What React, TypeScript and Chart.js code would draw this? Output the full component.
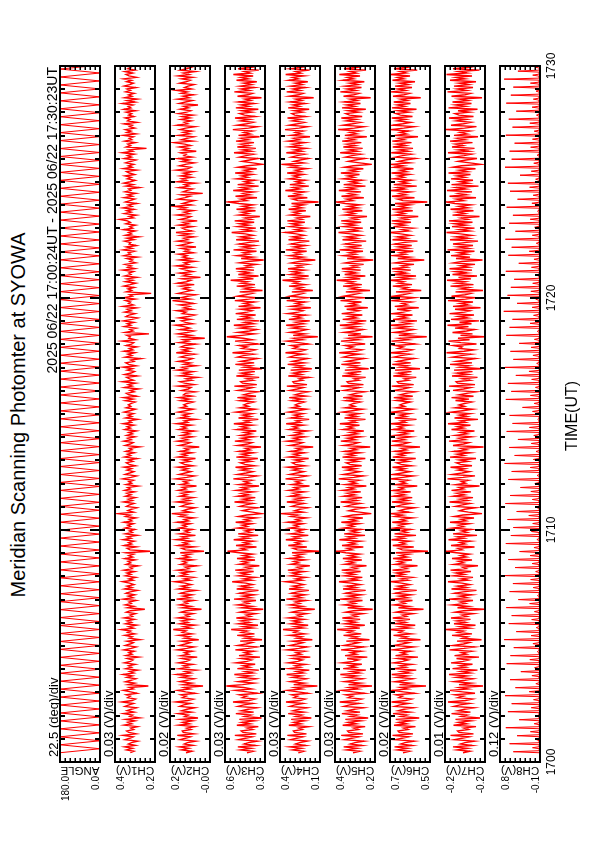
import React, { useEffect, useRef } from 'react';
import { Chart, registerables } from 'chart.js';

Chart.register(...registerables);

// ---------------- text ----------------
const TITLE = 'Meridian Scanning Photomter at SYOWA';
const SUBTITLE = '2025 06/22 17:00:24UT - 2025 06/22 17:30:23UT';
const TIME_TITLE = 'TIME(UT)';

// ---------------- panels ----------------
const panelNames = ['ANGLE', 'CH1(V)', 'CH2(V)', 'CH3(V)', 'CH4(V)', 'CH5(V)', 'CH6(V)', 'CH7(V)', 'CH8(V)'];
const divLabels = ['22.5 (deg)/div', '0.03 (V)/div', '0.02 (V)/div', '0.03 (V)/div', '0.03 (V)/div', '0.03 (V)/div', '0.02 (V)/div', '0.01 (V)/div', '0.12 (V)/div'];
const maxLabels = ['180.0', '0.4', '0.2', '0.6', '0.4', '0.4', '0.7', '-0.2', '0.8'];
const minLabels = ['0.0', '0.2', '-0.0', '0.3', '0.1', '0.2', '0.5', '-0.2', '-0.1'];
const panelMins = [0, 0.17, -0.01, 0.32, 0.14, 0.17, 0.54, -0.24, -0.12];
const panelDivs = [22.5, 0.03, 0.02, 0.03, 0.03, 0.03, 0.02, 0.01, 0.12];
const DIVISIONS = 8;

// ---------------- time axis (minutes after 17:00 UT) ----------------
const timeTickLabels = ['1700', '1710', '1720', '1730'];
const timeTickMinutes = [0, 10, 20, 30];
const TIME_MIN = 0;
const TIME_MAX = 30;
const MINOR_STEP = 1;
const MAJOR_STEP = 10;
const dataStartMin = 0.4; // 17:00:24
const dataEndMin = 30.383; // 17:30:23

// ---------------- data ----------------
const angleDeg = [
  180,0,180,0,180,0,180,0,180,0,180,0,180,0,180,0,180,0,180,0,180,0,
  180,0,180,0,180,0,180,0,180,0,180,0,180,0,180,0,180,0,180,0,180,0,
  180,0,180,0,180,0,180,0,180,0,180,0,180,0,180,0,180,0,180,0,180,0,
  180,0,180,0,180,0,180,0,180,0,180,0,180,0,180,0,180,0,180,0,180,0,
  180,0,180,0,180,0,180,0,180,0,180,0,180,0,180,0,180,0,180,0,180,0,
  180,0,180,0,180,0,180,0,180,0,180,0,180,0,180,0,180,0,180,0,180,0,
  180,0,180,0,180,0,180,0,180,0,180,0,180,0,180,0,180,0,180,0,180,0,
  180,0,180,0,180,0,180,0,180,0,180,0,180,0,180,0,180,0,180,0,180,0,
];

const ch1mV = [
  318,296,341,305,352,288,330,311,274,349,322,301,362,284,327,340,298,315,276,355,
  309,333,290,346,262,321,304,358,295,337,312,281,350,326,299,368,307,287,334,318,
  343,278,316,359,301,325,210,331,292,347,314,285,339,306,361,297,322,273,345,310,
  329,289,353,317,302,336,268,344,308,327,295,357,313,283,348,320,300,338,261,324,
  306,351,291,334,316,372,299,328,279,346,311,337,294,355,305,320,287,342,318,231,
  335,297,349,312,326,284,360,303,331,292,344,319,276,352,308,338,296,323,365,301,
  327,286,347,314,339,293,356,307,321,271,343,316,332,289,351,304,328,298,345,199,
  320,337,282,354,310,329,295,361,313,336,277,348,306,324,291,350,317,334,300,357,
  309,326,284,346,319,392,298,333,312,279,341,323,296,358,306,330,288,347,314,339,
  293,352,318,335,272,344,310,327,300,363,315,281,349,322,297,338,311,356,287,325,
  342,303,331,278,353,316,336,294,345,308,324,262,348,319,301,357,313,334,290,340,
  305,328,283,351,317,337,296,360,311,326,274,346,309,332,299,355,321,288,343,315,
  330,312,289,347,301,358,280,326,342,295,319,268,353,307,331,286,364,299,322,340,
  277,351,314,293,336,305,360,283,328,345,297,316,254,349,309,333,291,356,303,324,
  279,343,311,298,366,288,327,318,339,206,348,302,321,284,354,315,337,296,359,308,
  274,344,326,290,352,313,336,281,362,300,329,317,347,289,355,306,323,193,341,310,
  332,295,357,319,285,346,303,338,278,351,314,327,299,363,291,334,312,349,286,321,
  305,339,276,356,317,330,294,361,308,343,283,325,316,352,297,337,267,348,311,329,
  290,358,304,322,287,345,318,335,381,300,326,282,353,313,340,296,362,309,331,279,
  347,320,292,355,306,334,285,349,315,328,264,344,301,357,319,289,336,312,350,293,
  324,341,280,359,307,330,298,346,318,286,354,311,335,294,365,303,327,221,342,316,
  333,288,351,309,325,300,360,284,339,314,347,292,323,306,356,279,334,319,349,297,
  328,310,343,287,357,315,331,302,364,290,337,276,352,308,329,295,346,317,338,285,
  355,322,299,340,311,358,282,326,344,304,350,291,333,316,348,273,321,302,359,308,
  337,
];

const ch2mV = [
  86,62,104,75,112,58,93,80,47,109,88,69,121,55,97,101,66,83,52,115,
  73,99,60,108,38,91,77,117,64,103,82,51,111,95,68,126,79,57,100,85,
  106,49,87,119,70,94,18,98,63,110,81,54,105,74,123,67,90,45,113,78,
  96,59,116,84,71,102,41,107,76,92,61,120,83,53,111,89,69,104,35,92,
  72,114,62,100,86,137,68,95,50,110,79,103,64,118,74,88,57,106,85,24,
  101,66,112,80,93,55,124,71,98,62,108,87,46,115,77,104,65,90,129,70,
  94,56,111,82,105,63,119,75,89,43,107,84,99,58,114,73,96,67,109,14,
  88,103,52,117,78,97,64,125,81,102,48,112,74,91,60,113,85,100,69,121,
  76,93,54,110,87,143,67,99,80,50,106,90,65,122,73,97,57,111,82,104,
  63,116,86,101,44,108,78,95,70,127,83,52,113,89,66,102,79,119,57,92,
  107,71,98,48,118,84,103,62,109,76,91,33,112,86,69,120,80,101,59,105,
  72,96,53,114,85,102,64,123,79,93,46,110,77,99,68,117,88,57,107,83,
  95,81,58,107,72,115,61,96,88,49,103,77,66,118,54,92,110,63,85,40,
  112,70,98,57,121,83,101,45,94,68,116,79,60,108,87,52,125,74,99,64,
  106,90,47,113,76,97,11,102,65,119,82,55,109,71,93,128,59,88,104,67,
  114,78,51,100,86,123,62,95,73,111,56,89,140,69,105,80,48,117,91,63,
  98,75,108,53,120,84,66,102,28,96,72,112,58,87,106,61,124,77,93,50,
  110,68,99,82,116,57,91,74,104,46,113,85,65,119,79,95,54,107,70,126,
  62,88,101,59,115,76,97,41,109,83,67,122,73,94,56,111,86,132,64,100,
  78,52,117,90,69,105,19,98,81,60,114,75,92,48,120,84,103,63,108,71,
  96,57,125,80,66,112,89,53,102,74,118,61,94,85,107,45,99,77,113,68,
  91,136,59,104,82,55,116,72,97,63,110,87,50,121,79,93,65,106,70,101,
  58,115,83,67,109,76,95,38,112,88,61,119,74,98,56,105,81,124,64,92,
  78,54,111,86,69,103,60,117,73,96,49,108,84,66,114,77,100,58,121,90,
  71,
];

const ch3mV = [
  428,391,467,404,483,377,445,419,366,478,437,398,501,372,452,463,395,426,360,489,
  410,458,384,474,341,441,406,495,388,462,421,369,481,447,393,512,415,381,455,430,
  472,364,425,497,399,448,552,455,386,479,417,373,466,408,504,392,438,357,486,412,
  451,379,493,429,401,461,350,476,409,443,387,498,420,370,482,433,397,469,338,440,
  403,487,383,459,427,523,392,450,362,477,414,463,389,492,406,432,375,471,424,331,
  460,396,485,418,446,374,506,405,453,385,474,427,359,490,411,464,394,435,517,400,
  449,378,480,421,468,388,499,407,437,354,475,423,456,380,488,404,451,393,473,545,
  434,462,371,494,413,447,390,508,419,459,361,481,406,439,384,487,426,457,399,496,
  410,442,373,478,430,339,396,455,416,365,470,436,392,503,405,452,378,483,418,461,
  389,491,424,458,356,476,412,444,400,510,422,369,484,433,393,463,414,497,381,440,
  468,402,454,363,492,420,460,390,477,409,437,344,482,425,398,501,417,459,386,466,
  404,445,372,488,423,462,394,507,412,441,360,479,408,453,396,494,431,379,471,419,
  447,425,388,471,402,486,374,448,416,363,481,434,395,504,369,455,466,392,429,355,
  492,407,461,381,477,338,444,403,498,385,465,418,366,484,450,390,515,412,378,458,
  427,475,361,422,500,396,451,549,458,383,482,414,370,469,405,507,389,441,354,489,
  409,454,376,496,426,398,464,347,479,406,446,384,501,417,367,485,436,394,472,335,
  443,400,490,380,462,424,526,389,453,359,480,411,466,386,495,403,435,372,474,421,
  328,463,393,488,415,449,371,509,402,456,382,477,424,356,493,408,467,391,438,520,
  397,452,375,483,418,471,385,502,404,440,351,478,420,459,377,491,401,454,390,476,
  541,431,465,368,497,410,450,387,511,416,462,358,484,403,442,381,490,423,460,396,
  499,407,445,370,481,427,336,393,458,413,362,473,433,389,506,402,455,375,486,415,
  464,386,494,421,461,353,479,409,447,397,513,419,366,487,430,390,466,411,500,378,
  443,471,399,457,360,495,417,463,387,480,406,440,341,485,422,395,504,414,462,383,
  469,401,448,369,491,420,465,391,510,409,444,357,482,405,456,393,497,428,376,474,
  416,
];

const ch4mV = [
  270,238,305,251,322,226,287,262,215,316,279,243,336,221,293,300,246,268,209,327,
  255,297,233,313,192,284,250,331,237,302,266,218,320,290,241,344,259,229,296,274,
  309,212,271,335,248,292,156,298,235,318,263,222,304,253,340,240,281,204,324,257,
  289,227,330,273,245,301,198,311,254,283,232,337,267,217,319,278,242,306,186,280,
  249,323,231,295,272,362,239,291,211,314,258,303,236,329,252,276,220,310,269,171,
  299,244,321,261,288,223,342,251,294,230,312,275,207,326,256,302,238,279,348,247,
  286,225,317,264,307,234,333,252,277,201,315,268,297,228,325,250,290,239,308,146,
  276,301,219,330,259,287,235,345,265,298,210,318,249,281,231,322,270,296,243,334,
  257,284,221,313,274,375,240,293,262,214,309,280,236,339,251,291,226,320,263,300,
  233,327,267,294,203,311,255,285,245,347,269,218,321,278,237,303,260,332,229,288,
  306,248,292,208,328,266,299,234,316,253,282,181,319,271,244,337,261,298,230,312,
  250,286,216,324,273,301,238,343,258,283,205,314,254,295,241,329,277,222,310,264,
  289,267,235,308,248,325,223,290,259,212,319,276,240,339,218,296,303,243,265,206,
  330,252,300,230,316,189,287,247,334,234,305,263,215,323,293,238,347,256,226,299,
  271,312,209,268,338,245,295,153,301,232,321,260,219,307,250,343,237,284,201,327,
  254,292,224,333,270,242,304,195,314,251,286,229,340,264,214,322,275,239,309,183,
  283,246,326,228,298,269,365,236,294,208,317,255,306,233,332,249,279,217,313,266,
  168,302,241,324,258,291,220,345,248,297,227,315,272,204,329,253,305,235,282,351,
  244,289,222,320,261,310,231,336,249,280,198,318,265,300,225,328,247,293,236,311,
  149,273,304,216,333,256,290,232,348,262,301,207,321,246,284,228,325,267,299,240,
  337,254,287,218,316,271,372,237,296,259,211,312,277,233,342,248,294,223,323,260,
  303,230,330,264,297,200,314,252,288,242,350,266,215,324,275,234,306,257,335,226,
  291,309,245,295,205,331,263,302,231,319,250,285,178,322,268,241,340,258,301,227,
  315,247,289,213,327,270,304,235,346,255,286,202,317,251,298,238,332,274,219,313,
  261,
];

const ch5mV = [
  302,262,341,277,358,248,318,290,235,352,310,268,373,242,327,335,270,297,229,364,
  283,331,255,348,211,315,279,369,260,336,294,238,356,322,265,382,287,251,330,304,
  345,232,300,371,272,324,188,329,257,353,291,244,340,280,378,263,312,225,361,285,
  323,249,367,303,269,337,216,350,282,316,254,374,295,236,355,308,267,342,203,311,
  276,359,252,330,301,397,261,326,231,349,286,339,259,366,278,306,241,346,299,184,
  334,266,357,289,321,245,380,275,328,253,347,305,226,362,284,338,258,313,386,271,
  319,246,354,292,343,256,370,280,309,221,351,296,333,249,363,277,325,262,345,402,
  307,336,240,368,287,322,257,384,293,332,230,355,273,314,252,359,298,331,266,372,
  281,317,243,350,303,192,264,327,290,234,344,311,259,376,279,324,247,357,291,335,
  255,364,296,329,222,348,283,318,268,388,297,239,358,308,261,338,286,369,250,320,
  342,272,326,228,365,294,337,260,352,281,315,199,356,300,269,375,289,334,254,346,
  276,319,237,360,302,333,263,381,285,316,227,353,280,328,264,366,306,245,349,292,
  321,299,259,344,274,361,245,321,287,232,355,307,265,376,239,330,338,267,294,226,
  367,280,334,252,351,208,318,276,372,257,339,291,235,359,325,262,385,284,248,333,
  301,348,229,297,374,269,327,185,332,254,356,288,241,343,277,381,260,315,222,364,
  282,326,246,370,300,266,340,213,353,279,319,251,377,292,233,358,305,264,345,200,
  314,273,362,249,333,298,400,258,329,228,352,283,342,256,369,275,309,238,349,296,
  181,337,263,360,286,324,242,383,272,331,250,350,302,223,365,281,341,255,316,389,
  268,322,243,357,289,346,253,373,277,312,218,354,293,336,246,366,274,328,259,348,
  405,304,339,237,371,284,325,254,387,290,335,227,358,270,317,249,362,295,334,263,
  375,278,320,240,353,300,189,261,330,287,231,347,308,256,379,276,327,244,360,288,
  338,252,367,293,332,219,351,280,321,265,391,294,236,361,305,258,341,283,372,247,
  323,345,269,329,225,368,291,340,257,355,278,318,196,359,297,266,378,286,337,251,
  349,273,322,234,363,299,336,260,384,282,319,224,356,277,331,261,369,303,242,352,
  289,
];

const ch6mV = [
  648,622,671,630,682,612,657,640,603,679,652,626,690,608,663,668,628,645,598,684,
  634,665,617,677,583,656,633,688,620,667,644,606,681,660,625,694,637,614,664,650,
  675,601,646,691,629,658,556,662,619,680,641,609,672,631,693,623,654,595,685,636,
  659,613,687,649,627,669,588,678,635,655,618,692,647,604,683,651,624,673,578,653,
  632,686,615,663,648,698,622,661,599,681,638,670,620,689,634,650,607,676,646,566,
  666,624,684,640,657,610,695,630,664,616,679,652,593,687,637,668,621,654,696,628,
  656,611,683,643,674,619,690,633,653,590,680,645,667,612,688,631,660,623,677,548,
  651,666,605,689,639,658,621,694,644,669,596,682,632,655,617,685,647,665,626,691,
  636,656,609,681,649,699,624,663,642,601,675,653,618,692,630,661,611,686,641,670,
  617,688,646,662,591,679,637,657,628,697,648,606,686,652,620,667,640,690,613,655,
  673,627,663,597,689,644,668,621,682,634,654,580,685,647,625,693,641,666,615,677,
  631,659,603,687,648,667,623,696,638,656,594,681,635,661,622,689,650,608,676,642,
  660,645,619,674,627,685,609,660,637,600,682,649,623,693,605,666,671,625,642,595,
  687,631,668,614,680,580,659,630,691,617,670,641,603,684,657,622,697,634,611,667,
  647,678,598,643,694,626,661,553,665,616,683,638,606,675,628,696,620,651,592,688,
  633,662,610,690,646,624,672,585,681,632,652,615,695,644,601,686,648,621,676,575,
  650,629,689,612,666,645,699,619,664,596,684,635,673,617,692,631,653,604,679,643,
  563,669,621,687,637,660,607,698,627,667,613,682,649,590,690,634,671,618,657,699,
  625,653,608,686,640,677,616,693,630,656,587,683,642,670,609,691,628,663,620,680,
  551,648,669,602,692,636,661,618,697,641,672,593,685,629,658,614,688,644,668,623,
  694,633,659,606,684,646,698,621,666,639,598,678,650,615,695,627,664,608,689,638,
  673,614,691,643,665,588,682,634,660,625,699,645,603,689,649,617,670,637,693,610,
  658,676,624,666,594,692,641,671,618,685,631,657,577,688,644,622,696,638,669,612,
  680,628,662,600,690,645,670,620,698,635,659,591,684,632,664,619,692,647,605,679,
  639,
];

const ch7mV = [
  -196,-210,-184,-205,-176,-214,-191,-200,-219,-179,-194,-208,-171,-217,-188,-185,-207,-198,-222,-177,
  -203,-187,-212,-181,-230,-193,-204,-173,-211,-186,-199,-218,-178,-190,-209,-166,-201,-215,-186,-197,
  -180,-220,-195,-170,-206,-189,-236,-188,-212,-178,-200,-216,-183,-204,-168,-210,-192,-225,-175,-202,
  -190,-215,-172,-196,-207,-183,-228,-179,-203,-193,-213,-169,-198,-219,-176,-197,-209,-184,-233,-195,
  -205,-174,-214,-186,-197,-162,-209,-190,-221,-178,-201,-184,-211,-172,-204,-194,-217,-180,-197,-238,
  -185,-207,-175,-201,-191,-216,-168,-204,-189,-213,-179,-196,-223,-173,-203,-185,-210,-194,-166,-206,
  -192,-216,-177,-199,-182,-212,-171,-202,-195,-226,-178,-197,-187,-214,-174,-203,-191,-209,-183,-161,
  -194,-186,-219,-172,-200,-190,-211,-167,-198,-185,-224,-176,-204,-193,-213,-175,-197,-187,-208,-170,
  -202,-192,-218,-179,-196,-234,-207,-189,-199,-221,-181,-195,-210,-169,-205,-190,-216,-177,-199,-184,
  -212,-173,-197,-188,-229,-181,-201,-193,-206,-165,-196,-220,-175,-194,-209,-186,-200,-171,-214,-191,
  -183,-206,-189,-222,-170,-198,-184,-210,-178,-203,-192,-237,-176,-197,-208,-168,-200,-188,-213,-181,
  -204,-191,-219,-173,-197,-185,-211,-166,-201,-190,-226,-179,-204,-189,-210,-172,-195,-215,-180,-199,
  -188,-199,-213,-181,-208,-173,-217,-188,-203,-222,-176,-197,-211,-168,-220,-185,-182,-210,-195,-225,
  -174,-206,-184,-215,-178,-233,-190,-207,-170,-214,-183,-202,-221,-175,-193,-212,-163,-198,-218,-189,
  -194,-177,-223,-192,-167,-209,-186,-239,-191,-215,-175,-203,-219,-180,-207,-165,-213,-189,-228,-172,
  -205,-187,-218,-169,-199,-210,-180,-231,-176,-206,-190,-216,-166,-201,-222,-173,-200,-212,-181,-236,
  -192,-208,-171,-217,-183,-200,-164,-212,-187,-224,-175,-204,-181,-214,-169,-207,-191,-220,-177,-194,
  -235,-182,-210,-172,-204,-188,-219,-165,-207,-186,-216,-176,-199,-226,-170,-206,-182,-213,-191,-163,
  -209,-189,-219,-174,-202,-179,-215,-168,-205,-192,-229,-175,-200,-184,-217,-171,-206,-188,-212,-180,
  -162,-197,-183,-222,-169,-203,-187,-214,-164,-201,-182,-227,-173,-207,-190,-216,-172,-200,-184,-211,
  -167,-205,-189,-221,-176,-193,-232,-210,-186,-202,-224,-178,-198,-213,-166,-208,-187,-219,-174,-196,
  -181,-215,-170,-200,-185,-226,-178,-204,-190,-209,-162,-199,-223,-172,-197,-212,-183,-203,-168,-217,
  -188,-180,-209,-186,-225,-167,-201,-181,-213,-175,-206,-189,-234,-173,-200,-211,-165,-203,-185,-216,
  -178,-207,-188,-222,-170,-200,-182,-214,-163,-204,-187,-229,-176,-207,-186,-213,-169,-198,-218,-177,
  -196,
];

// CH8: per scan cycle a baseline level, a peak and a small return
const ch8Floor = [
  -101,-97,-104,-99,-95,-102,-98,-100,-106,-96,-103,-99,-94,-101,-105,-98,-100,-97,-103,-99,
  -96,-102,-100,-95,-104,-98,-101,-97,-105,-99,-100,-96,-103,-98,-102,-94,-100,-104,-97,-101,
  -99,-95,-103,-100,-98,-106,-97,-101,-99,-96,-104,-100,-98,-102,-95,-101,-97,-103,-99,-100,
  -96,-104,-98,-101,-97,-103,-100,-95,-102,-99,-105,-98,-100,-96,-103,-99,-101,-97,-104,-98,
  -100,-95,-102,-99,-97,-103,-100,
];
const ch8Peak = [
  520,610,430,700,380,650,560,720,470,600,340,680,590,510,740,450,630,560,690,400,
  610,530,760,480,640,370,700,580,520,660,440,710,600,350,640,560,730,490,620,410,
  680,540,610,300,700,570,650,460,720,520,590,380,690,610,540,750,430,660,580,500,
  700,390,640,560,710,470,620,530,680,420,600,650,360,720,560,610,490,700,540,630,
  450,690,580,520,740,410,660,
];
const ch8Small = [
  60,-40,110,20,-70,90,35,140,-20,75,10,125,-55,50,95,-30,80,15,130,-60,
  45,105,-15,70,120,25,-45,85,55,150,-35,65,100,5,-50,115,40,-25,90,30,
  135,-65,60,20,110,-10,80,145,-40,50,95,15,-55,120,35,70,-20,100,55,-45,
  85,25,140,-30,65,10,115,-60,75,45,130,-15,90,30,-50,105,60,20,125,-35,
  70,40,-25,110,55,-5,95,
];

// ---------------- layout / style (pixels) ----------------
const PANEL_LEFTS = [60, 115, 170, 225, 280, 335, 390, 445, 500];
const PANEL_LINE_WIDTHS = [1, 1.4, 1.4, 1.4, 1.4, 1.4, 1.4, 1.4, 1];
const PANEL_W = 40;
const PANEL_TOP = 66;
const PANEL_H = 696;
const PAD = 6;
const MINOR_LEN = 5;
const MAJOR_LEN = 10;
const VTICK_LEN = 3;
const FONT = '"Liberation Sans", Arial, Helvetica, sans-serif';

// ---------------- build series ----------------
function timed(values: number[], scale: number) {
  const n = values.length;
  return values.map((v, i) => ({
    x: v * scale,
    y: dataStartMin + (i * (dataEndMin - dataStartMin)) / (n - 1),
  }));
}

const ch8mV = ch8Peak.flatMap((p, i) => {
  const f = ch8Floor[i];
  return [f, p, f, f, f, ch8Small[i], f, f];
});

const series = [
  timed(angleDeg, 1),
  timed(ch1mV, 0.001),
  timed(ch2mV, 0.001),
  timed(ch3mV, 0.001),
  timed(ch4mV, 0.001),
  timed(ch5mV, 0.001),
  timed(ch6mV, 0.001),
  timed(ch7mV, 0.001),
  timed(ch8mV, 0.001),
];

const framePlugin = {
  id: 'frame',
  afterDatasetsDraw(chart: any, _args: any, opts: any) {
    const { ctx, chartArea: a } = chart;
    const xs = chart.scales.x;
    const ys = chart.scales.y;
    ctx.save();
    ctx.strokeStyle = '#000';
    ctx.lineCap = 'butt';
    ctx.lineWidth = 2;
    for (let m = TIME_MIN + MINOR_STEP; m < TIME_MAX; m += MINOR_STEP) {
      const py = Math.round(ys.getPixelForValue(m));
      const len = m % MAJOR_STEP === 0 ? MAJOR_LEN : MINOR_LEN;
      ctx.beginPath();
      ctx.moveTo(a.left, py);
      ctx.lineTo(a.left + len, py);
      ctx.moveTo(a.right, py);
      ctx.lineTo(a.right - len, py);
      ctx.stroke();
    }
    ctx.lineWidth = 1.5;
    for (let k = 1; k < DIVISIONS; k++) {
      const px = Math.round(xs.getPixelForValue(opts.min + k * opts.div)) + 0.25;
      ctx.beginPath();
      ctx.moveTo(px, a.top);
      ctx.lineTo(px, a.top + VTICK_LEN + 1);
      ctx.moveTo(px, a.bottom);
      ctx.lineTo(px, a.bottom - VTICK_LEN - 1);
      ctx.stroke();
    }
    ctx.lineWidth = 2;
    ctx.strokeRect(a.left, a.top, a.right - a.left, a.bottom - a.top);
    ctx.restore();
  },
};

function Panel({ idx }: { idx: number }) {
  const ref = useRef<HTMLCanvasElement>(null);
  useEffect(() => {
    const min = panelMins[idx];
    const div = panelDivs[idx];
    const chart = new Chart(ref.current as HTMLCanvasElement, {
      type: 'scatter',
      data: {
        datasets: [
          {
            data: series[idx],
            showLine: true,
            borderColor: '#ff0000',
            borderWidth: PANEL_LINE_WIDTHS[idx],
            pointRadius: 0,
            clip: 0,
          } as any,
        ],
      },
      options: {
        responsive: false,
        animation: false,
        events: [],
        devicePixelRatio: 1,
        layout: { padding: PAD },
        plugins: {
          legend: { display: false },
          tooltip: { enabled: false },
          frame: { min, div },
        } as any,
        scales: {
          x: { type: 'linear', display: false, min, max: min + DIVISIONS * div, reverse: true },
          y: { type: 'linear', display: false, min: TIME_MIN, max: TIME_MAX },
        },
      },
      plugins: [framePlugin as any],
    });
    return () => chart.destroy();
  }, [idx]);
  return (
    <canvas
      ref={ref}
      width={PANEL_W + 2 * PAD}
      height={PANEL_H + 2 * PAD}
      style={{
        position: 'absolute',
        left: PANEL_LEFTS[idx] - PAD,
        top: PANEL_TOP - PAD,
        width: PANEL_W + 2 * PAD,
        height: PANEL_H + 2 * PAD,
      }}
    />
  );
}

function RText({ x, y, text, size, anchor = 'middle', rot = -90 }: { x: number; y: number; text: string; size: number; anchor?: string; rot?: number }) {
  const tx = anchor === 'start' ? '0' : anchor === 'end' ? '-100%' : '-50%';
  return (
    <div
      style={{
        position: 'absolute',
        left: 0,
        top: 0,
        whiteSpace: 'nowrap',
        fontSize: size,
        lineHeight: 1,
        fontFamily: FONT,
        color: '#000',
        transformOrigin: '0 0',
        transform: `translate(${x}px, ${y}px) rotate(${rot}deg) translate(${tx}, -50%)`,
      }}
    >
      {text}
    </div>
  );
}

const timeToY = (m: number) => PANEL_TOP + (1 - (m - TIME_MIN) / (TIME_MAX - TIME_MIN)) * PANEL_H;

export default function App() {
  const lastRight = PANEL_LEFTS[PANEL_LEFTS.length - 1] + PANEL_W;
  return (
    <div style={{ position: 'absolute', left: 0, top: 0, width: 595, height: 842, background: '#fff', overflow: 'hidden' }}>
      {PANEL_LEFTS.map((_, i) => (
        <Panel key={i} idx={i} />
      ))}
      <RText x={18} y={415} text={TITLE} size={20} />
      <RText x={52} y={PANEL_TOP + 1} text={SUBTITLE} size={14} anchor="end" />
      {PANEL_LEFTS.map((l, i) => (
        <React.Fragment key={'t' + i}>
          <RText x={l - 7} y={PANEL_TOP + PANEL_H - 5} text={divLabels[i]} size={13} anchor="start" />
          <RText x={l + PANEL_W / 2} y={770} text={panelNames[i]} size={11.5} rot={180} />
          <RText x={l + 6} y={776} text={maxLabels[i]} size={10} anchor="end" />
          <RText x={l + PANEL_W - 4} y={776} text={minLabels[i]} size={10} anchor="end" />
        </React.Fragment>
      ))}
      {timeTickLabels.map((lab, i) => (
        <RText key={'tl' + i} x={lastRight + 11} y={timeToY(timeTickMinutes[i])} text={lab} size={12} />
      ))}
      <RText x={572} y={416} text={TIME_TITLE} size={16} />
    </div>
  );
}
